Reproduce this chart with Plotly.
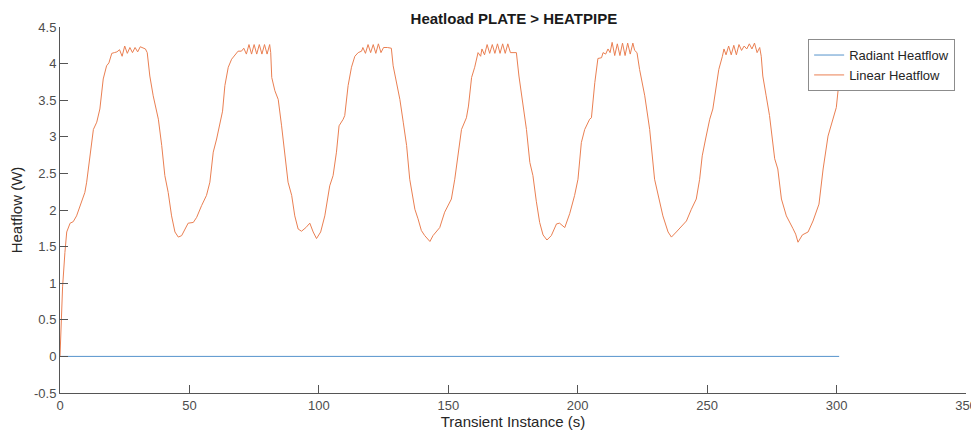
import plotly.graph_objects as go

# ---- data ----
time_s = [0, 1, 1.9, 2.6, 3.9, 5.1, 6.4, 7.7, 9.6, 10.3, 11.6, 12.9, 14.2, 15.4, 16.7, 18.0, 18.9,
          20, 21, 22, 23, 24, 25, 26, 27, 28, 29, 30, 31, 32, 33, 33.7,
          34.7, 36, 38, 39.3, 40.5, 41.8, 43.1, 44.4, 45.7, 47, 48.3, 49.5, 51.5, 52.8, 54.7, 56.6,
          57.9, 59.2, 60.5, 61.8, 62.8, 63.7, 65, 66.3, 67.6, 68.8, 70.1,
          71, 72, 73, 74, 75, 76, 77, 78, 79, 80, 81, 81.4,
          81.8, 83, 84.3, 85.6, 86.9, 88.1, 89.5, 90.7, 92, 93.3, 95, 96.5, 97.8, 99.1, 100.7,
          102.3, 104.2, 105.5, 106.8, 107.8, 109.4, 110, 111.3, 112.6, 113.9, 115.2, 116.5,
          117, 118, 119, 120, 121, 122, 123, 124, 125, 126.5, 128,
          128.7, 130, 131.3, 132.6, 133.9, 135.1, 136.2, 137.1, 138.3, 139.6, 140.9, 142.9, 144.1,
          146.7, 148.6, 151.2, 152.5, 153.9, 155.1, 157, 157.8, 159, 160.2, 161.5,
          162.5, 163, 164, 165, 166, 167, 168, 169, 170, 171, 172, 173, 174, 175, 176.3,
          177.3, 178.9, 180.2, 181.5, 182.7, 184, 185.3, 186.6, 188.1, 189.8, 191.8, 193, 195,
          196.9, 198.8, 200.1, 201.4, 202.7, 204.6, 205.3, 206.6, 207.8, 209.2, 209.8,
          210.8, 211.7, 212.5, 213.3, 214.3, 215.3, 216.3, 217.3, 218.3, 219.3, 220.3, 221.3, 222, 222.9,
          223.9, 225.9, 227.8, 229.7, 231.4, 232.9, 234.9, 236.2, 238.1, 240, 242, 243.9, 245.8,
          247.1, 248.1, 249.4, 251, 252.2, 253.5, 254.5, 255.9,
          256.5, 257.3, 258.3, 259.3, 260.3, 261.3, 262.3, 263.3, 264.3, 265.3, 266.3, 267.3, 268.3,
          269.3, 270.3, 270.9,
          271.5, 272.8, 274.1, 276.1, 277.3, 278.7, 280.6, 283.1, 284.2, 285.1, 286.8, 289, 290.9,
          293.2, 294.8, 296.7, 298.6, 299.9, 300.9]

linear_heatflow = [0, 0.95, 1.42, 1.70, 1.82, 1.84, 1.92, 2.06, 2.24, 2.38, 2.76, 3.10, 3.20, 3.38, 3.79, 3.97, 4.01,
                   4.14, 4.15, 4.16, 4.19, 4.10, 4.24, 4.14, 4.22, 4.15, 4.22, 4.16, 4.23, 4.22, 4.20, 4.15,
                   3.83, 3.56, 3.24, 2.88, 2.47, 2.24, 1.92, 1.70, 1.63, 1.65, 1.74, 1.82, 1.83, 1.90, 2.06, 2.20,
                   2.38, 2.79, 2.97, 3.18, 3.35, 3.70, 3.95, 4.06, 4.11, 4.17, 4.17,
                   4.21, 4.13, 4.26, 4.13, 4.26, 4.13, 4.26, 4.13, 4.26, 4.13, 4.26, 4.15,
                   3.81, 3.63, 3.51, 3.15, 2.70, 2.38, 2.20, 1.92, 1.74, 1.71, 1.76, 1.82, 1.70, 1.61, 1.70,
                   1.92, 2.33, 2.47, 2.79, 3.15, 3.24, 3.29, 3.70, 3.95, 4.10, 4.15, 4.17,
                   4.22, 4.14, 4.26, 4.15, 4.26, 4.14, 4.27, 4.15, 4.22, 4.22, 4.21,
                   3.97, 3.74, 3.51, 3.20, 2.88, 2.42, 2.20, 2.01, 1.88, 1.72, 1.65, 1.57, 1.65,
                   1.76, 1.97, 2.15, 2.42, 2.79, 3.10, 3.26, 3.42, 3.81, 3.95, 4.15,
                   4.10, 4.20, 4.12, 4.26, 4.14, 4.26, 4.14, 4.27, 4.14, 4.27, 4.14, 4.27, 4.15, 4.15, 4.15,
                   3.83, 3.42, 3.10, 2.65, 2.47, 2.12, 1.83, 1.66, 1.59, 1.65, 1.81, 1.82, 1.76,
                   1.95, 2.20, 2.42, 2.92, 3.10, 3.24, 3.26, 3.74, 4.07, 4.08, 4.15,
                   4.13, 4.20, 4.15, 4.29, 4.11, 4.27, 4.11, 4.28, 4.11, 4.28, 4.13, 4.28, 4.18, 4.15,
                   3.92, 3.56, 3.10, 2.42, 2.15, 1.92, 1.70, 1.63, 1.70, 1.78, 1.85, 2.01, 2.15,
                   2.42, 2.74, 2.97, 3.24, 3.38, 3.70, 3.92, 4.10,
                   4.20, 4.12, 4.24, 4.12, 4.25, 4.12, 4.26, 4.18, 4.24, 4.20, 4.27, 4.20, 4.28,
                   4.15, 4.22, 4.10,
                   3.83, 3.56, 3.29, 2.70, 2.56, 2.15, 1.92, 1.75, 1.67, 1.56, 1.66, 1.70, 1.85,
                   2.08, 2.56, 3.01, 3.26, 3.40, 3.74]

radiant_time = [0, 301]
radiant_heatflow = [0, 0]

x_ticks = [0, 50, 100, 150, 200, 250, 300, 350]
y_ticks = [-0.5, 0, 0.5, 1, 1.5, 2, 2.5, 3, 3.5, 4, 4.5]
y_tick_text = ["-0.5", "0", "0.5", "1", "1.5", "2", "2.5", "3", "3.5", "4", "4.5"]

FONT = "Liberation Sans, Arial, Helvetica, sans-serif"
AXIS_COL = "#555555"

fig = go.Figure()
fig.add_trace(go.Scatter(x=radiant_time, y=radiant_heatflow, mode="lines",
                         name="Radiant Heatflow",
                         line=dict(color="#5593cc", width=1)))
fig.add_trace(go.Scatter(x=time_s, y=linear_heatflow, mode="lines",
                         name="Linear Heatflow",
                         line=dict(color="#ea7f52", width=1)))

# The page body has an 8px margin, so the figure is sized to the visible area.
fig.update_layout(
    width=971, height=430,
    margin=dict(l=52, r=13, t=19, b=45),
    paper_bgcolor="white", plot_bgcolor="white",
    font=dict(family=FONT, size=13, color="#4d4d4d"),
    title=dict(text="<b>Heatload PLATE > HEATPIPE</b>", x=0.521, xanchor="center",
               y=0.976, yanchor="middle", font=dict(size=15, color="#1a1a1a")),
    showlegend=True,
    legend=dict(x=0.988, y=0.967, xanchor="right", yanchor="top",
                bgcolor="white", bordercolor="#8c8c8c", borderwidth=1,
                font=dict(size=13, color="#262626"), tracegroupgap=0),
    xaxis=dict(range=[0, 350], tickvals=x_ticks, ticks="inside", ticklen=8,
               tickcolor=AXIS_COL, showline=True, linecolor=AXIS_COL, linewidth=1,
               showgrid=False, zeroline=False, mirror=False, automargin=False,
               title=dict(text="Transient Instance (s)", standoff=4,
                          font=dict(size=15, color="#262626"))),
    yaxis=dict(range=[-0.5, 4.5], tickvals=y_ticks, ticktext=y_tick_text,
               ticks="inside", ticklen=8,
               tickcolor=AXIS_COL, showline=True, linecolor=AXIS_COL, linewidth=1,
               showgrid=False, zeroline=False, mirror=False, automargin=False,
               title=dict(text="Heatflow (W)", standoff=10,
                          font=dict(size=15, color="#262626"))),
)

fig.write_html("out.html")
